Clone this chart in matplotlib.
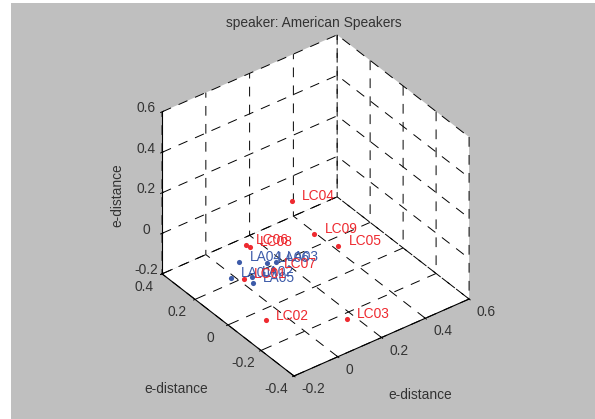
import matplotlib
matplotlib.use('Agg')
import matplotlib.pyplot as plt
from matplotlib.patches import Rectangle
from matplotlib.transforms import offset_copy
from mpl_toolkits.mplot3d import proj3d

plt.rcParams['font.family'] = ['Liberation Sans', 'DejaVu Sans']

# red group
lc_names = ['LC01', 'LC02', 'LC03', 'LC04', 'LC05', 'LC06', 'LC07', 'LC08', 'LC09']
lc_x = [-0.133, -0.147, 0.093, 0.148, 0.304, 0.001, -0.010, 0.005, 0.241]
lc_y = [-0.008, -0.160, -0.333, 0.074, 0.001, 0.158, -0.022, 0.139, 0.063]
lc_z = [0.0, -0.1, -0.1, 0.2, -0.05, 0.0, 0.0, 0.0, 0.0]

# blue group
la_names = ['LA01', 'LA02', 'LA03', 'LA04', 'LA05', 'LA06']
la_x = [-0.167, -0.102, 0.025, -0.083, -0.122, -0.005]
la_y = [0.026, -0.015, 0.007, 0.088, -0.047, 0.022]
la_z = [0.0, 0.0, 0.0, 0.0, 0.0, 0.0]

x_ticks = [-0.2, 0, 0.2, 0.4, 0.6]
y_ticks = [-0.4, -0.2, 0, 0.2, 0.4]
z_ticks = [-0.2, 0, 0.2, 0.4, 0.6]

gray = '#bfbfbf'
red = '#ee2a30'
blue = '#3d5ba9'
txt = '#333333'
fs = 9.9

fig = plt.figure(figsize=(5.95, 4.19), dpi=100, facecolor='white')
fig.add_artist(Rectangle((11/595, 0), 1, 1-3/419, transform=fig.transFigure,
                         facecolor=gray, edgecolor='none', zorder=-10))

ax = fig.add_axes([0.1, 0.1, 0.8, 0.8], projection='3d', proj_type='ortho')
ax.patch.set_visible(False)
ax.view_init(elev=35.7, azim=-127)
ax.set_box_aspect((1, 1, 0.91))
ax.set_xlim(-0.2, 0.6)
ax.set_ylim(-0.4, 0.4)
ax.set_zlim(-0.2, 0.6)
ax.set_xticks(x_ticks)
ax.set_yticks(y_ticks)
ax.set_zticks(z_ticks)
ax.set_xticklabels(['-0.2', '0', '0.2', '0.4', '0.6'])
ax.set_yticklabels(['-0.4', '-0.2', '0', '0.2', '0.4'])
ax.set_zticklabels(['-0.2', '0', '0.2', '0.4', '0.6'])

for axis in [ax.xaxis, ax.yaxis, ax.zaxis]:
    axis.set_pane_color((1, 1, 1, 1))
    axis.pane.set_edgecolor('none')
    axis.line.set_color('black')
    axis.line.set_linewidth(0.8)
    axis._axinfo['grid'].update(color='black', linewidth=0.7, linestyle=(0, (10, 8.5)))
    axis._axinfo['tick'].update(inward_factor=0.1, outward_factor=0.1, linewidth={True: 0.7, False: 0.7})
ax.tick_params(labelsize=fs, labelcolor=txt, color='black', pad=1)
plt.setp(ax.get_xticklabels(), ha='left', va='bottom')


def shift_ticklabels(axis, dx, dy):
    # Axis3D resets the label transform on every call, so wrap the call
    orig = axis.get_major_ticks
    tr = offset_copy(ax.transData, fig=fig, x=dx, y=dy, units='dots')
    def get_major_ticks(numticks=None):
        ticks = orig(numticks)
        for t in ticks:
            t.label1.set_transform(tr)
        return ticks
    axis.get_major_ticks = get_major_ticks


shift_ticklabels(ax.xaxis, -1, -2.5)
shift_ticklabels(ax.yaxis, -6, 10)
shift_ticklabels(ax.zaxis, 5, 9)


def fit_axes():
    # move the axes so the box corners land where they are in the picture
    fig.canvas.draw()
    def px(x, y, z):
        a, b, _ = proj3d.proj_transform(x, y, z, ax.get_proj())
        return ax.transData.transform((a, b))
    left = px(-0.2, 0.4, -0.2)
    right = px(0.6, -0.4, -0.2)
    scale = (469 - 162) / (right[0] - left[0])
    pos = ax.get_position(original=True)
    ax.set_position([pos.x0, pos.y0, pos.width * scale, pos.height * scale])
    fig.canvas.draw()
    front = px(-0.2, -0.4, -0.2)
    pos = ax.get_position(original=True)
    dx = (294 - front[0]) / 595
    dy = ((419 - 376) - front[1]) / 419
    ax.set_position([pos.x0 + dx, pos.y0 + dy, pos.width, pos.height])


fit_axes()

ax.plot(lc_x, lc_y, lc_z, 'o', color=red, ms=3.7, mew=0)
ax.plot(la_x, la_y, la_z, 'o', color=blue, ms=3.7, mew=0)
text_tr = offset_copy(ax.transData, fig=fig, x=10.3, y=4.5, units='dots')
for name, x, y, z in zip(la_names, la_x, la_y, la_z):
    ax.text(x, y, z, name, color=blue, fontsize=fs, va='center', transform=text_tr)
for name, x, y, z in zip(lc_names, lc_x, lc_y, lc_z):
    ax.text(x, y, z, name, color=red, fontsize=fs, va='center', transform=text_tr)

fig.text(314/595, 1-23/419, 'speaker: American Speakers', ha='center', va='center', fontsize=fs, color=txt)
fig.text(176/595, 1-389/419, 'e-distance', ha='center', va='center', fontsize=fs, color=txt)
fig.text(420/595, 1-395/419, 'e-distance', ha='center', va='center', fontsize=fs, color=txt)
fig.text(117/595, 1-195/419, 'e-distance', ha='center', va='center', rotation=90, fontsize=fs, color=txt)

fig.savefig('out.png', dpi=100, facecolor='white')
